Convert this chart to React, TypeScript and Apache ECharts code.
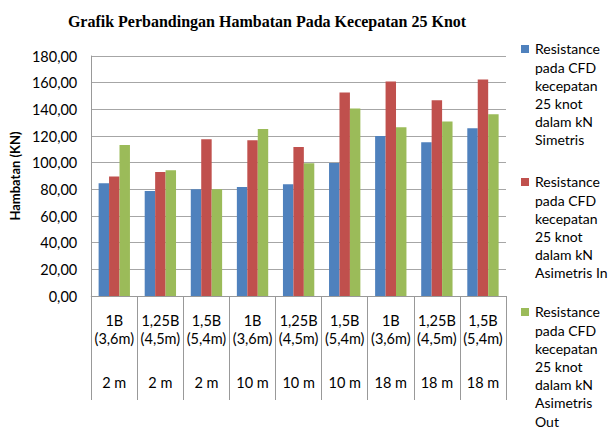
import React, { useEffect, useRef } from "react";
import * as echarts from "echarts";

const sizeTop = ["1B", "1,25B", "1,5B", "1B", "1,25B", "1,5B", "1B", "1,25B", "1,5B"];
const sizeBottom = ["(3,6m)", "(4,5m)", "(5,4m)", "(3,6m)", "(4,5m)", "(5,4m)", "(3,6m)", "(4,5m)", "(5,4m)"];
const distances = ["2 m", "2 m", "2 m", "10 m", "10 m", "10 m", "18 m", "18 m", "18 m"];
const categories = sizeTop.map((s, i) => `${s} ${sizeBottom[i]} ${distances[i]}`);

const simetris = [84.5, 78.7, 80.0, 81.8, 83.8, 99.8, 120.0, 115.3, 125.8];
const asimetrisIn = [89.6, 93.0, 117.5, 116.8, 111.8, 152.6, 160.8, 146.8, 162.3];
const asimetrisOut = [113.3, 94.3, 80.0, 125.2, 99.5, 140.6, 126.6, 130.8, 136.4];

const seriesNames = [
  "Resistance pada CFD kecepatan 25 knot dalam kN Simetris",
  "Resistance pada CFD kecepatan 25 knot dalam kN Asimetris In",
  "Resistance pada CFD kecepatan 25 knot dalam kN Asimetris Out",
];
const legendLines = [
  ["Resistance", "pada CFD", "kecepatan", "25 knot", "dalam kN", "Simetris"],
  ["Resistance", "pada CFD", "kecepatan", "25 knot", "dalam kN", "Asimetris In"],
  ["Resistance", "pada CFD", "kecepatan", "25 knot", "dalam kN", "Asimetris", "Out"],
];
const colors = ["#4F81BD", "#C0504D", "#9BBB59"];
const yTicks = [0, 20, 40, 60, 80, 100, 120, 140, 160, 180];

const FONT = "Lato, 'Open Sans', sans-serif";

export default function App() {
  const ref = useRef<HTMLDivElement>(null);
  useEffect(() => {
    if (!ref.current) return;
    const chart = echarts.init(ref.current, undefined, { renderer: "svg" });
    const legendTops = [49, 182, 312];
    const LH = 18.2;
    const legendGraphics: any[] = [];
    legendLines.forEach((lines, k) => {
      legendGraphics.push({
        type: "rect",
        shape: { x: 521, y: legendTops[k] - 4, width: 8, height: 8 },
        style: { fill: colors[k] },
      });
      legendGraphics.push({
        type: "text",
        x: 535,
        y: legendTops[k] - LH / 2,
        style: {
          text: lines.join("\n"),
          font: `14px ${FONT}`,
          lineHeight: LH,
          fill: "#000",
          verticalAlign: "top",
          align: "left",
        },
      });
    });
    chart.setOption({
      animation: false,
      backgroundColor: "#fff",
      grid: { left: 81, right: 104, top: 56, bottom: 135, containLabel: false },
      graphic: [
        {
          type: "text",
          x: 267,
          y: 21,
          style: {
            text: "Grafik Perbandingan Hambatan Pada Kecepatan 25 Knot",
            font: "bold 16px 'Liberation Serif', 'Times New Roman', serif",
            fill: "#000",
            align: "center",
            verticalAlign: "middle",
          },
        },
        ...legendGraphics,
      ],
      xAxis: {
        type: "category",
        data: categories,
        axisLine: { show: true, lineStyle: { color: "#999", width: 1 } },
        axisTick: { show: true, length: 104, interval: 0, lineStyle: { color: "#999" } },
        axisLabel: {
          interval: 0,
          margin: 15,
          verticalAlign: "top",
          formatter: (_v: string, i: number) =>
            `{a|${sizeTop[i]}}\n{a|${sizeBottom[i]}}\n{b|${distances[i]}}`,
          rich: {
            a: { fontFamily: FONT, fontSize: 14.5, lineHeight: 18, color: "#000" },
            b: { fontFamily: FONT, fontSize: 14.5, lineHeight: 70, color: "#000" },
          },
        },
        splitLine: { show: false },
      },
      yAxis: {
        type: "value",
        min: 0,
        max: 180,
        interval: 20,
        name: "Hambatan (KN)",
        nameLocation: "middle",
        nameGap: 60,
        nameTextStyle: { fontFamily: FONT, fontSize: 13, fontWeight: "bold", color: "#000" },
        axisLine: { show: true, lineStyle: { color: "#999", width: 1 } },
        axisTick: { show: false },
        axisLabel: {
          margin: 14,
          fontFamily: FONT,
          fontSize: 14.5,
          color: "#000",
          formatter: (v: number) => (yTicks.includes(v) ? v.toFixed(2).replace(".", ",") : ""),
        },
        splitLine: { show: true, lineStyle: { color: "#A6A6A6", width: 1 } },
      },
      series: [simetris, asimetrisIn, asimetrisOut].map((d, k) => ({
        type: "bar",
        name: seriesNames[k],
        data: d,
        barGap: "0%",
        barCategoryGap: "32%",
        itemStyle: { color: colors[k] },
      })),
    });
    return () => chart.dispose();
  }, []);
  return (
    <div
      ref={ref}
      style={{ position: "fixed", left: 0, top: 0, width: 610, height: 431 }}
    />
  );
}
